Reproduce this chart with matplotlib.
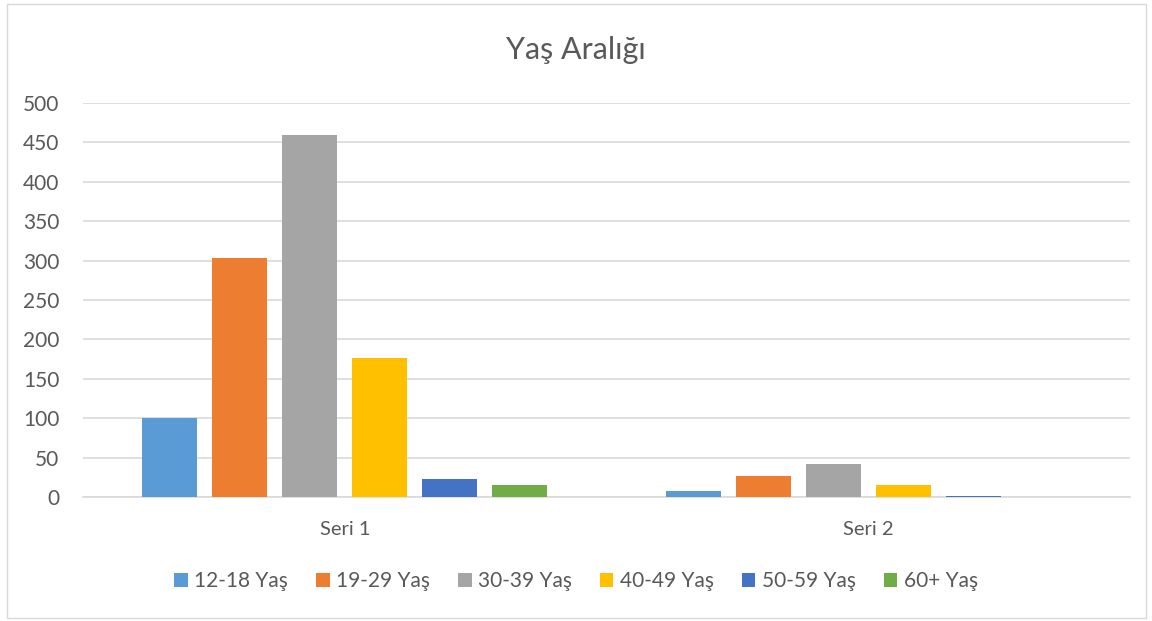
import matplotlib
matplotlib.use("Agg")
import matplotlib.pyplot as plt
from matplotlib.patches import Rectangle
import numpy as np

plt.rcParams['font.family'] = ['Lato', 'DejaVu Sans']

categories = ["Seri 1", "Seri 2"]
series_names = ["12-18 Yaş", "19-29 Yaş", "30-39 Yaş", "40-49 Yaş", "50-59 Yaş", "60+ Yaş"]
values_12_18 = [100, 8]
values_19_29 = [303, 27]
values_30_39 = [460, 42]
values_40_49 = [176, 15]
values_50_59 = [23, 1]
values_60 = [15, 0]
series_values = [values_12_18, values_19_29, values_30_39, values_40_49, values_50_59, values_60]
colors = ["#5B9BD5", "#ED7D31", "#A5A5A5", "#FFC000", "#4472C4", "#70AD47"]
yticks = [0, 50, 100, 150, 200, 250, 300, 350, 400, 450, 500]
title = "Yaş Aralığı"

W, H = 1152, 621
fig = plt.figure(figsize=(W / 100, H / 100), dpi=100)
fig.patch.set_facecolor("white")
fig.add_artist(Rectangle((7 / W, 3 / H), 1139 / W, 614 / H, transform=fig.transFigure,
                         fill=False, edgecolor="#D9D9D9", linewidth=1))

ax = fig.add_axes([83 / W, 1 - 497 / H, (1130 - 83) / W, (497 - 103) / H])
x = np.arange(len(categories))
slot = 0.1337
bw = 0.105
n = len(series_names)
for i, (name, vals, c) in enumerate(zip(series_names, series_values, colors)):
    offs = (i - (n - 1) / 2) * slot
    ax.bar(x + offs, vals, width=bw, color=c, label=name, zorder=3)

ax.set_xlim(-0.5, 1.5)
ax.set_ylim(0, 500)
ax.set_yticks(yticks)
ax.set_yticklabels([str(v) for v in yticks])
ax.set_xticks(x)
ax.set_xticklabels(categories)
ax.tick_params(axis="both", length=0, colors="#595959")
ax.tick_params(axis="y", pad=17, labelsize=15)
ax.tick_params(axis="x", pad=17, labelsize=14.5)
ax.grid(axis="y", color="#D9D9D9", linewidth=1.2, zorder=0)
for s in ["top", "right", "left"]:
    ax.spines[s].set_visible(False)
ax.spines["bottom"].set_color("#D9D9D9")
ax.spines["bottom"].set_linewidth(1.2)

fig.text(0.5, 1 - 59 / H, title, ha="center", va="baseline", fontsize=22, color="#595959")

handles, labels = ax.get_legend_handles_labels()
leg = fig.legend(handles, labels, loc="center", bbox_to_anchor=(0.5, 1 - 581 / H), ncol=6,
                 frameon=False, fontsize=15, handlelength=0.65, handleheight=0.65,
                 handletextpad=0.3, columnspacing=1.35, labelcolor="#595959")

fig.savefig("out.png", dpi=100)
